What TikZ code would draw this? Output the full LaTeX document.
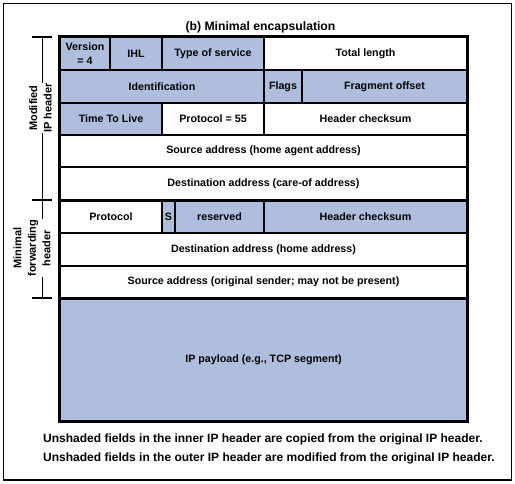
\documentclass[tikz,border=0pt]{standalone}
\usepackage{fontspec}
\setmainfont{Liberation Sans}
\definecolor{shade}{RGB}{175,190,220}
\newcommand\mkcell[7]{%
  \node[cell, fill=#6, minimum width={(#3-#2)*1pt}, minimum height={(#5-#4)*1pt}]
    (#1) at ({(#2+#3)/2},{(#4+#5)/2}) {#7};}
\tikzset{
  cell/.style={draw, line width=1.4pt, inner sep=0pt, align=center,
    font=\fontsize{10.7}{13.5}\selectfont\bfseries},
  brk/.style={line width=1.4pt},
  lbl/.style={fill=white, rotate=90, align=center, inner sep=0.5pt,
    font=\fontsize{11}{14.5}\selectfont\bfseries},
  thick line/.style={line width=3pt},
  notefont/.style={anchor=base west, inner sep=0pt, font=\fontsize{12}{15}\selectfont\bfseries}
}
\begin{document}
\begin{tikzpicture}[x=1pt,y=-1pt]
\useasboundingbox (0,0) rectangle (515,483);
\draw[line width=1.2pt] (3.5,3.5) rectangle (511.5,480);
\node[anchor=base, inner sep=0pt, font=\fontsize{12.2}{15}\selectfont\bfseries] (title) at (260.5,30.7) {(b) Minimal encapsulation};
% row 1
\mkcell{ver}{60}{110}{37}{70}{shade}{Version\\= 4}
\mkcell{ihl}{110}{162}{37}{70}{shade}{IHL}
\mkcell{tos}{162}{264}{37}{70}{shade}{Type of service}
\mkcell{tlen}{264}{467}{37}{70}{white}{Total length}
% row 2
\mkcell{ident}{60}{264}{70}{103}{shade}{Identification}
\mkcell{flags}{264}{302}{70}{103}{shade}{Flags}
\mkcell{frag}{302}{467}{70}{103}{shade}{Fragment offset}
% row 3
\mkcell{ttl}{60}{162}{103}{135}{shade}{Time To Live}
\mkcell{proto}{162}{264}{103}{135}{white}{Protocol = 55}
\mkcell{hcs}{264}{467}{103}{135}{white}{Header checksum}
% rows 4-5
\mkcell{src}{60}{467}{135}{167}{white}{Source address (home agent address)}
\mkcell{dst}{60}{467}{167}{200}{white}{Destination address (care-of address)}
% minimal forwarding header
\mkcell{mproto}{60}{162}{200}{233}{white}{Protocol}
\mkcell{sbit}{162}{175}{200}{233}{shade}{S}
\mkcell{res}{175}{264}{200}{233}{shade}{reserved}
\mkcell{mhcs}{264}{467}{200}{233}{shade}{Header checksum}
\mkcell{mdst}{60}{467}{233}{266}{white}{Destination address (home address)}
\mkcell{msrc}{60}{467}{266}{298}{white}{Source address (original sender; may not be present)}
% payload
\mkcell{pay}{60}{467}{298}{421}{shade}{IP payload (e.g., TCP segment)}
% thick borders
\draw[thick line] (ver.north west) rectangle (pay.south east);
\draw[thick line] (dst.south west) -- (dst.south east);
\draw[thick line] (msrc.south west) -- (msrc.south east);
% brackets
\coordinate (b1) at (42.5,37);
\coordinate (b2) at (42.5,200);
\coordinate (b3) at (42.5,298);
\draw[brk] (b1) -- (b3);
\draw[brk] ([xshift=-10.5pt]b1) -- ([xshift=9.5pt]b1);
\draw[brk] ([xshift=-10.5pt]b2) -- ([xshift=9.5pt]b2);
\draw[brk] ([xshift=-10.5pt]b3) -- ([xshift=9.5pt]b3);
\node[lbl] (lab1) at (40.5,108) {Modified\\IP header};
\node[lbl] (lab2) at (32,248) {Minimal\\forwarding\\header};
% footnote
\node[notefont] (note1) at (43,442.7)
 {Unshaded fields in the inner IP header are copied from the original IP header.};
\node[notefont] (note2) at (43,461.7)
 {Unshaded fields in the outer IP header are modified from the original IP header.};
\end{tikzpicture}
\end{document}
